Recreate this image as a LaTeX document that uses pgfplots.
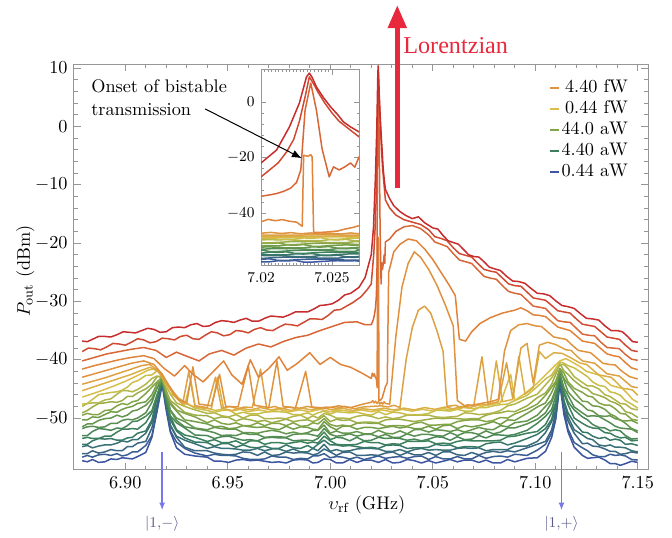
\documentclass[border=0pt,11pt]{standalone}
\usepackage{fontspec}
\usepackage{pgfplots}
\usepackage{pgfplotstable}
\pgfplotsset{compat=1.18}
\usetikzlibrary{arrows.meta}
\newfontfamily\lorfont{Liberation Serif}

% colours along the power sweep, blue (low) to red (high)
\definecolor{c1}{RGB}{60,85,160}
\definecolor{c2}{RGB}{59,94,146}
\definecolor{c3}{RGB}{58,102,132}
\definecolor{c4}{RGB}{57,111,118}
\definecolor{c5}{RGB}{56,120,104}
\definecolor{c6}{RGB}{60,128,93}
\definecolor{c7}{RGB}{74,135,88}
\definecolor{c8}{RGB}{87,142,83}
\definecolor{c9}{RGB}{101,150,78}
\definecolor{c10}{RGB}{114,157,72}
\definecolor{c11}{RGB}{132,165,71}
\definecolor{c12}{RGB}{155,173,72}
\definecolor{c13}{RGB}{178,181,73}
\definecolor{c14}{RGB}{200,190,74}
\definecolor{c15}{RGB}{216,190,74}
\definecolor{c16}{RGB}{218,176,70}
\definecolor{c17}{RGB}{221,161,67}
\definecolor{c18}{RGB}{223,147,63}
\definecolor{c19}{RGB}{224,131,59}
\definecolor{c20}{RGB}{216,102,55}
\definecolor{c21}{RGB}{208,74,50}
\definecolor{c22}{RGB}{200,45,45}
\definecolor{lorred}{RGB}{232,40,60}
\definecolor{ketline}{RGB}{120,120,235}
\definecolor{kettext}{RGB}{90,90,140}
\definecolor{framegray}{RGB}{150,150,150}

% low-power traces (linear regime)
\pgfplotstableread{
x y1 y2 y3 y4 y5 y6 y7 y8 y9 y10 y11 y12 y13 y14
6.879 -57.3 -56.7 -56.1 -54.9 -54.5 -53.5 -53.0 -51.8 -51.5 -50.3 -49.5 -49.1 -48.0 -47.6
6.8815 -57.5 -56.4 -56.1 -54.7 -54.5 -53.3 -53.0 -51.5 -51.0 -50.3 -49.2 -48.7 -47.5 -47.5
6.884 -57.1 -56.7 -55.6 -55.1 -53.9 -53.5 -52.3 -51.4 -51.0 -49.8 -49.4 -48.1 -47.4 -46.8
6.887 -57.6 -56.3 -56.0 -54.8 -53.5 -53.5 -51.8 -51.6 -50.4 -49.9 -49.4 -47.5 -47.4 -46.0
6.890 -57.5 -56.2 -55.8 -54.6 -53.6 -53.1 -51.9 -51.5 -50.1 -49.4 -48.7 -47.4 -46.9 -45.8
6.893 -57.0 -56.4 -55.4 -54.6 -53.5 -53.1 -52.1 -50.9 -50.0 -48.9 -48.6 -47.2 -46.7 -45.6
6.896 -57.1 -56.1 -55.6 -54.3 -53.8 -52.4 -51.7 -50.9 -49.5 -49.0 -47.9 -47.3 -45.9 -45.5
6.8985 -56.8 -56.5 -55.6 -53.9 -53.8 -51.9 -51.8 -50.4 -49.8 -48.5 -47.5 -47.0 -45.3 -45.2
6.901 -56.9 -56.3 -54.9 -54.1 -53.4 -51.9 -51.3 -50.2 -49.5 -48.2 -47.7 -46.3 -45.3 -44.7
6.9035 -57.0 -55.8 -54.9 -53.7 -53.3 -51.8 -50.6 -50.3 -48.8 -48.0 -47.2 -46.3 -45.5 -43.9
6.906 -56.6 -55.8 -54.3 -53.7 -52.6 -51.9 -50.5 -50.0 -48.6 -47.5 -47.0 -45.7 -45.1 -43.6
6.910 -55.9 -54.7 -54.0 -52.6 -52.2 -50.8 -49.7 -49.1 -47.8 -47.2 -45.8 -45.0 -44.2 -42.7
6.913 -53.3 -53.0 -51.7 -50.7 -50.3 -49.1 -48.7 -47.3 -46.7 -46.0 -44.7 -44.2 -43.2 -42.6
6.9155 -48.8 -48.7 -47.8 -47.7 -46.6 -46.3 -46.0 -44.9 -44.8 -44.1 -43.8 -42.9 -42.8 -41.9
6.918 -44.3 -43.7 -43.8 -43.9 -43.3 -43.6 -43.4 -43.6 -43.1 -43.5 -43.0 -42.8 -43.1 -42.7
6.920 -48.7 -47.9 -48.0 -47.5 -47.5 -46.8 -47.0 -46.2 -45.8 -45.9 -45.3 -45.4 -44.6 -44.5
6.922 -52.4 -52.2 -51.3 -51.2 -50.3 -49.7 -49.6 -48.7 -48.6 -47.6 -47.3 -47.0 -45.9 -45.8
6.925 -55.1 -54.1 -53.3 -53.1 -52.2 -52.0 -50.8 -50.4 -50.0 -48.8 -48.6 -47.8 -47.4 -46.4
6.929 -56.2 -55.2 -55.0 -53.8 -53.4 -52.9 -51.7 -51.5 -50.6 -50.3 -49.2 -49.0 -48.0 -47.2
6.934 -56.5 -56.0 -55.6 -54.4 -54.1 -53.3 -52.9 -51.8 -51.7 -50.6 -49.8 -49.5 -48.6 -48.3
6.940 -56.7 -56.5 -55.6 -55.2 -54.2 -54.0 -53.0 -52.2 -52.0 -51.0 -50.8 -49.6 -49.2 -48.7
6.9435 -57.4 -56.2 -56.0 -54.9 -54.8 -53.7 -53.5 -52.5 -51.6 -51.5 -50.3 -50.1 -49.1 -49.0
6.947 -57.4 -56.4 -56.2 -55.2 -54.4 -54.2 -53.2 -53.0 -51.8 -51.4 -50.9 -49.8 -49.6 -48.7
6.9505 -57.6 -56.4 -56.3 -55.2 -54.4 -54.2 -53.1 -52.9 -51.9 -51.8 -51.1 -49.9 -49.8 -48.6
6.954 -57.2 -56.5 -56.2 -55.3 -55.0 -53.9 -53.5 -53.0 -51.9 -51.7 -50.8 -50.5 -49.4 -49.3
6.9575 -57.1 -56.9 -55.8 -55.5 -54.6 -54.5 -53.8 -52.6 -52.5 -51.3 -51.3 -50.1 -50.0 -49.0
6.961 -57.3 -57.1 -55.9 -55.5 -55.0 -53.9 -53.7 -52.8 -52.5 -51.5 -51.3 -50.3 -49.5 -49.3
6.9645 -57.2 -57.1 -56.4 -55.2 -55.1 -53.9 -53.9 -52.8 -52.6 -51.6 -50.8 -50.6 -49.5 -49.3
6.968 -57.4 -57.0 -55.8 -55.6 -54.8 -54.5 -53.4 -53.3 -52.3 -51.5 -51.3 -50.4 -50.1 -49.0
6.9715 -57.6 -56.5 -56.4 -55.3 -55.2 -54.2 -53.3 -53.2 -52.1 -51.8 -50.9 -50.8 -50.1 -48.9
6.975 -57.5 -56.7 -56.3 -55.3 -55.2 -54.2 -53.4 -53.2 -52.3 -52.0 -50.9 -50.5 -50.0 -48.9
6.9785 -57.7 -56.7 -55.8 -55.7 -54.6 -54.4 -53.4 -53.3 -52.7 -51.4 -51.3 -50.2 -50.1 -49.0
6.982 -57.2 -57.1 -56.0 -55.3 -55.1 -54.2 -53.9 -52.8 -52.4 -51.9 -50.8 -50.6 -49.7 -49.4
6.9855 -57.1 -56.9 -55.9 -55.8 -55.2 -54.0 -53.8 -52.7 -52.7 -51.5 -51.4 -50.4 -49.5 -49.4
6.989 -57.2 -57.0 -56.0 -55.8 -54.7 -54.3 -53.8 -52.7 -52.5 -51.6 -51.3 -50.3 -50.1 -49.1
6.9915 -57.7 -56.5 -56.3 -55.2 -55.2 -54.1 -53.9 -52.9 -52.1 -51.9 -50.8 -50.6 -49.6 -49.5
6.994 -57.6 -56.5 -56.1 -55.6 -54.5 -54.3 -53.5 -53.1 -52.1 -52.0 -51.0 -50.3 -50.0 -49.1
6.997 -57.0 -56.1 -55.3 -54.5 -53.8 -53.1 -52.4 -51.8 -51.2 -50.6 -50.1 -49.6 -49.2 -48.8
7.000 -57.1 -56.8 -55.8 -55.7 -54.6 -53.9 -53.7 -52.8 -52.6 -51.5 -51.1 -50.6 -49.5 -49.3
7.003 -57.7 -56.6 -56.4 -55.4 -54.6 -54.5 -53.3 -53.1 -52.2 -52.0 -51.4 -50.2 -50.0 -48.9
7.006 -57.7 -56.7 -55.9 -55.7 -54.8 -54.6 -53.4 -53.0 -52.6 -51.4 -51.2 -50.4 -50.0 -49.0
7.0095 -57.1 -57.0 -55.8 -55.6 -54.7 -54.6 -53.9 -52.7 -52.6 -51.4 -51.4 -50.3 -50.1 -49.1
7.013 -57.6 -56.7 -56.4 -55.3 -54.9 -54.5 -53.3 -53.1 -52.3 -51.9 -50.9 -50.8 -49.7 -49.0
7.0165 -57.2 -57.1 -56.4 -55.2 -55.1 -54.0 -53.9 -52.8 -52.7 -51.6 -50.8 -50.7 -49.5 -49.3
7.020 -57.2 -56.8 -56.3 -55.2 -55.0 -54.2 -53.8 -52.8 -52.7 -51.6 -50.9 -50.7 -49.7 -49.5
7.0235 -57.6 -56.5 -56.4 -55.3 -55.2 -54.2 -53.3 -53.2 -52.1 -51.8 -50.9 -50.8 -50.1 -48.9
7.027 -57.1 -56.9 -56.0 -55.7 -54.7 -54.6 -53.5 -52.8 -52.6 -51.6 -51.4 -50.3 -49.8 -49.4
7.0305 -57.7 -56.7 -55.8 -55.7 -54.6 -54.4 -53.4 -53.3 -52.7 -51.4 -51.3 -50.2 -50.1 -49.0
7.034 -57.6 -56.6 -56.4 -55.4 -54.7 -54.5 -53.5 -53.3 -52.2 -51.7 -51.3 -50.2 -49.9 -49.1
7.0375 -57.1 -56.9 -55.9 -55.8 -55.2 -54.0 -53.8 -52.7 -52.7 -51.5 -51.4 -50.4 -49.5 -49.4
7.041 -57.3 -56.6 -56.3 -55.4 -55.1 -54.0 -53.6 -53.1 -52.0 -51.8 -50.9 -50.6 -49.5 -49.4
7.0445 -57.7 -56.5 -56.3 -55.2 -55.1 -54.0 -53.9 -52.8 -52.0 -51.8 -50.7 -50.4 -49.5 -49.4
7.048 -57.3 -57.1 -55.9 -55.5 -55.0 -53.9 -53.6 -52.8 -52.4 -51.4 -51.2 -50.2 -49.5 -49.2
7.0515 -57.7 -56.6 -56.4 -55.4 -54.5 -54.4 -53.2 -53.0 -52.0 -51.9 -51.2 -50.0 -49.8 -48.7
7.055 -57.4 -57.0 -55.8 -55.5 -54.7 -54.3 -53.3 -53.1 -52.1 -51.3 -51.1 -50.1 -49.9 -48.7
7.0585 -57.1 -57.0 -55.8 -55.5 -54.6 -54.4 -53.8 -52.5 -52.3 -51.2 -51.1 -50.0 -49.8 -48.8
7.062 -57.5 -56.6 -56.3 -55.2 -55.1 -54.0 -53.2 -53.0 -52.0 -51.8 -50.6 -50.1 -49.7 -48.5
7.0655 -57.2 -57.0 -56.4 -55.1 -54.9 -53.8 -53.7 -52.5 -52.4 -51.3 -50.4 -50.2 -49.1 -48.8
7.069 -57.2 -57.0 -55.9 -55.2 -54.9 -53.9 -53.6 -52.5 -52.0 -51.5 -50.3 -50.1 -49.2 -48.8
7.0725 -57.6 -56.4 -56.3 -55.1 -55.0 -53.9 -53.0 -52.8 -51.6 -51.3 -50.3 -50.1 -49.4 -48.2
7.076 -57.2 -56.9 -55.9 -55.6 -54.4 -53.9 -53.4 -52.2 -51.9 -51.0 -50.6 -49.5 -49.3 -48.2
7.0795 -57.7 -56.6 -55.7 -55.4 -54.2 -53.9 -52.9 -52.7 -52.0 -50.6 -50.4 -49.2 -49.1 -47.9
7.083 -57.7 -56.5 -55.9 -55.4 -54.1 -53.8 -52.9 -52.4 -51.3 -51.1 -49.9 -49.1 -48.7 -47.7
7.0865 -57.1 -56.7 -55.6 -55.4 -54.6 -53.2 -53.0 -51.7 -51.5 -50.3 -50.0 -48.8 -47.9 -47.6
7.090 -57.5 -56.2 -55.8 -54.8 -54.3 -53.1 -52.8 -51.7 -50.8 -50.4 -49.3 -48.9 -47.6 -47.0
7.096 -56.9 -56.4 -55.1 -54.8 -53.5 -52.6 -52.1 -51.0 -50.5 -49.2 -48.5 -47.9 -46.6 -46.1
7.101 -56.8 -55.5 -54.5 -54.0 -52.8 -52.3 -50.9 -50.2 -49.5 -48.1 -47.6 -46.5 -45.9 -44.6
7.105 -55.7 -54.5 -54.0 -52.5 -51.8 -51.1 -49.7 -49.1 -48.0 -47.4 -46.1 -45.7 -44.3 -43.3
7.108 -53.3 -52.6 -52.0 -50.6 -50.2 -49.1 -48.5 -47.3 -46.9 -45.6 -44.7 -44.2 -43.1 -42.6
7.110 -50.2 -49.9 -49.0 -48.6 -47.5 -47.3 -46.2 -45.4 -45.0 -44.0 -43.7 -42.5 -42.0 -41.5
7.112 -44.2 -43.5 -43.8 -43.1 -42.7 -42.9 -42.3 -42.4 -41.7 -41.6 -41.5 -40.7 -40.9 -40.4
7.114 -49.4 -48.6 -48.3 -47.3 -47.0 -45.8 -45.3 -44.8 -43.5 -43.2 -42.3 -41.9 -40.8 -40.6
7.116 -52.4 -51.9 -50.5 -49.8 -49.1 -47.7 -47.2 -46.1 -45.5 -44.2 -43.8 -42.5 -41.5 -41.0
7.119 -55.0 -54.2 -52.6 -52.0 -50.8 -50.0 -48.6 -48.1 -46.7 -45.5 -44.9 -43.6 -42.9 -41.4
7.123 -56.4 -55.1 -54.4 -52.9 -52.4 -50.9 -49.8 -49.1 -47.8 -47.1 -45.6 -44.7 -43.9 -42.3
7.1255 -56.9 -55.6 -54.3 -53.5 -52.5 -51.4 -50.3 -49.7 -48.6 -47.2 -46.2 -45.0 -44.5 -42.9
7.128 -56.8 -56.3 -54.8 -53.7 -53.1 -51.7 -51.1 -49.6 -48.8 -47.9 -46.4 -45.8 -44.5 -43.8
7.131 -56.7 -56.6 -54.9 -54.6 -53.5 -51.8 -51.6 -49.7 -49.6 -48.0 -47.4 -46.1 -45.0 -44.4
7.134 -57.2 -56.6 -55.3 -54.8 -53.3 -52.5 -51.7 -50.3 -49.7 -48.5 -47.8 -46.5 -46.0 -44.6
7.1365 -57.8 -56.2 -55.7 -54.6 -53.8 -52.6 -52.2 -50.8 -49.6 -49.3 -47.8 -47.1 -46.3 -45.5
7.139 -57.8 -56.4 -55.7 -55.0 -53.6 -53.1 -52.0 -51.4 -50.1 -49.7 -48.4 -47.4 -46.9 -45.7
7.1415 -58.1 -56.3 -56.2 -55.0 -53.8 -53.4 -52.2 -51.7 -50.3 -50.4 -49.2 -47.9 -47.5 -46.1
7.144 -57.8 -56.5 -56.1 -55.1 -54.5 -53.3 -53.0 -51.8 -50.9 -50.5 -49.3 -48.9 -47.6 -47.0
7.147 -57.4 -57.1 -55.8 -55.6 -54.4 -53.9 -53.6 -51.9 -51.8 -50.4 -50.2 -49.2 -48.4 -47.6
7.150 -57.6 -57.2 -56.0 -55.8 -54.7 -53.8 -53.5 -52.5 -52.2 -50.9 -50.4 -49.9 -48.6 -48.3
}\lowtab

% the same traces, finer, for the inset
\pgfplotstableread{
x y1 y2 y3 y4 y5 y6 y7 y8 y9 y10 y11 y12 y13 y14
7.0200 -57.6 -56.7 -56.4 -55.3 -54.9 -54.5 -53.3 -53.1 -52.3 -51.9 -50.9 -50.8 -49.7 -49.0
7.0206 -57.6 -56.5 -56.2 -55.4 -55.1 -54.1 -53.9 -52.9 -52.2 -51.9 -51.0 -50.8 -49.6 -49.2
7.0212 -57.2 -57.1 -56.0 -55.3 -55.1 -54.2 -53.9 -52.8 -52.4 -51.9 -50.8 -50.6 -49.7 -49.4
7.0218 -57.3 -57.1 -55.9 -55.5 -55.1 -54.0 -53.7 -52.9 -52.6 -51.5 -51.4 -50.4 -49.6 -49.4
7.0224 -57.1 -56.9 -56.0 -55.7 -54.7 -54.6 -53.5 -52.8 -52.6 -51.6 -51.4 -50.3 -49.8 -49.4
7.0230 -57.7 -56.7 -55.9 -55.7 -54.8 -54.6 -53.4 -53.0 -52.6 -51.4 -51.2 -50.4 -50.0 -49.0
7.0236 -57.7 -56.6 -56.1 -55.7 -54.6 -54.4 -53.5 -53.2 -52.2 -52.0 -51.0 -50.3 -50.0 -49.1
7.0242 -57.5 -56.7 -56.3 -55.3 -55.2 -54.2 -53.4 -53.2 -52.3 -52.0 -50.9 -50.5 -50.0 -48.9
7.0248 -57.3 -56.6 -56.3 -55.4 -55.2 -54.1 -53.6 -53.2 -52.1 -51.8 -51.0 -50.7 -49.6 -49.5
7.0254 -57.2 -56.8 -56.3 -55.2 -55.0 -54.2 -53.8 -52.8 -52.7 -51.6 -50.9 -50.7 -49.7 -49.5
7.0260 -57.3 -57.0 -55.9 -55.8 -54.8 -54.1 -53.8 -52.9 -52.7 -51.5 -51.1 -50.7 -49.5 -49.3
7.0266 -57.2 -57.0 -56.0 -55.8 -54.7 -54.3 -53.8 -52.7 -52.5 -51.6 -51.3 -50.3 -50.1 -49.1
7.0270 -57.4 -57.0 -55.8 -55.6 -54.8 -54.5 -53.4 -53.3 -52.3 -51.5 -51.3 -50.4 -50.1 -49.0
}\insettab

% high-power traces, one table each (H lowest ... A highest)
\pgfplotstableread[row sep=\\]{x y\\
6.879 -46.4\\ 6.886 -45.6\\ 6.893 -44.7\\ 6.900 -43.7\\ 6.906 -42.7\\ 6.911 -41.8\\ 6.915 -41.5\\ 6.918 -42.4\\ 6.921 -44.5\\ 6.925 -46.5\\ 6.929 -47.8\\ 6.932 -43.5\\ 6.934 -47.9\\ 6.940 -48.3\\ 6.944 -48.7\\ 6.948 -48.4\\ 6.952 -48.8\\ 6.956 -48.5\\ 6.960 -48.9\\ 6.965 -48.6\\ 6.970 -48.9\\ 6.975 -48.5\\ 6.980 -48.9\\ 6.985 -48.6\\ 6.990 -48.9\\ 6.995 -48.5\\ 7.000 -48.9\\ 7.005 -48.6\\ 7.010 -48.9\\ 7.015 -48.6\\ 7.020 -48.9\\ 7.025 -48.6\\ 7.030 -48.9\\ 7.035 -48.5\\ 7.040 -48.8\\ 7.045 -48.5\\ 7.050 -48.8\\ 7.055 -48.4\\ 7.060 -48.6\\ 7.065 -48.2\\ 7.070 -48.4\\ 7.075 -47.9\\ 7.083 -47.4\\ 7.088 -42.5\\ 7.090 -47.0\\ 7.096 -45.5\\ 7.101 -44.0\\ 7.105 -42.6\\ 7.109 -41.2\\ 7.112 -40.2\\ 7.115 -39.8\\ 7.118 -40.4\\ 7.122 -41.2\\ 7.125 -42.0\\ 7.128 -42.3\\ 7.131 -42.6\\ 7.134 -43.5\\ 7.137 -44.4\\ 7.140 -44.7\\ 7.1425 -44.9\\ 7.145 -45.8\\ 7.1475 -46.8\\ 7.150 -47.3\\
}\curveH
\pgfplotstableread[row sep=\\]{x y\\
6.879 -45.3\\ 6.885 -44.6\\ 6.891 -43.9\\ 6.897 -43.2\\ 6.903 -42.5\\ 6.908 -41.8\\ 6.912 -41.3\\ 6.916 -42.0\\ 6.920 -43.8\\ 6.924 -45.8\\ 6.928 -47.3\\ 6.933 -48.0\\ 6.938 -48.3\\ 6.942 -48.4\\ 6.945 -43.0\\ 6.948 -48.4\\ 6.952 -48.7\\ 6.956 -48.3\\ 6.961 -48.6\\ 6.966 -48.2\\ 6.971 -48.6\\ 6.976 -48.3\\ 6.981 -48.7\\ 6.986 -48.3\\ 6.991 -48.6\\ 6.996 -48.2\\ 7.001 -48.6\\ 7.006 -48.3\\ 7.011 -48.7\\ 7.016 -48.4\\ 7.021 -48.6\\ 7.026 -48.3\\ 7.031 -48.6\\ 7.036 -48.3\\ 7.041 -48.6\\ 7.046 -48.2\\ 7.051 -48.5\\ 7.056 -48.1\\ 7.060 -48.4\\ 7.064 -48.0\\ 7.068 -48.2\\ 7.072 -47.8\\ 7.078 -47.6\\ 7.081 -40.2\\ 7.084 -47.2\\ 7.089 -46.8\\ 7.092 -39.4\\ 7.095 -45.9\\ 7.099 -44.8\\ 7.102 -38.6\\ 7.105 -39.8\\ 7.109 -38.8\\ 7.113 -38.9\\ 7.117 -39.6\\ 7.122 -40.6\\ 7.125 -40.8\\ 7.128 -41.7\\ 7.131 -42.6\\ 7.134 -42.8\\ 7.137 -43.0\\ 7.140 -44.0\\ 7.1425 -44.9\\ 7.145 -45.0\\ 7.1475 -45.2\\ 7.150 -46.1\\
}\curveG
\pgfplotstableread[row sep=\\]{x y\\
6.879 -44.2\\ 6.885 -43.6\\ 6.891 -43.0\\ 6.897 -42.3\\ 6.903 -41.6\\ 6.908 -41.0\\ 6.912 -40.8\\ 6.916 -41.9\\ 6.920 -44.0\\ 6.924 -46.2\\ 6.928 -47.6\\ 6.931 -42.0\\ 6.934 -47.9\\ 6.940 -48.2\\ 6.944 -43.0\\ 6.947 -48.3\\ 6.951 -48.0\\ 6.955 -48.4\\ 6.958 -48.1\\ 6.962 -48.2\\ 6.966 -41.6\\ 6.969 -48.3\\ 6.973 -48.0\\ 6.976 -48.4\\ 6.980 -48.1\\ 6.985 -48.3\\ 6.989 -48.0\\ 6.994 -48.4\\ 6.998 -48.1\\ 7.003 -48.3\\ 7.007 -48.0\\ 7.012 -48.4\\ 7.016 -48.1\\ 7.020 -48.0\\ 7.025 -47.9\\ 7.028 -48.1\\ 7.031 -47.8\\ 7.034 -48.2\\ 7.037 -40.0\\ 7.040 -34.5\\ 7.043 -31.5\\ 7.046 -30.8\\ 7.049 -32.0\\ 7.052 -35.0\\ 7.055 -38.5\\ 7.057 -48.0\\ 7.061 -47.8\\ 7.064 -48.2\\ 7.067 -47.7\\ 7.070 -47.9\\ 7.074 -39.5\\ 7.077 -47.6\\ 7.082 -47.2\\ 7.086 -40.5\\ 7.089 -46.6\\ 7.093 -38.0\\ 7.096 -37.2\\ 7.099 -44.0\\ 7.102 -37.5\\ 7.106 -37.0\\ 7.110 -37.4\\ 7.115 -38.3\\ 7.1175 -38.4\\ 7.120 -39.3\\ 7.123 -40.2\\ 7.126 -40.4\\ 7.129 -40.6\\ 7.132 -41.5\\ 7.135 -42.4\\ 7.138 -42.6\\ 7.141 -42.8\\ 7.144 -43.7\\ 7.147 -44.6\\ 7.150 -44.8\\
}\curveF
\pgfplotstableread[row sep=\\]{x y\\
6.879 -43.0\\ 6.885 -42.4\\ 6.891 -41.8\\ 6.897 -41.2\\ 6.903 -40.6\\ 6.909 -40.2\\ 6.914 -40.8\\ 6.918 -42.5\\ 6.922 -44.8\\ 6.926 -46.8\\ 6.930 -47.4\\ 6.933 -41.2\\ 6.936 -47.6\\ 6.942 -47.9\\ 6.946 -42.5\\ 6.949 -48.0\\ 6.955 -48.1\\ 6.960 -41.0\\ 6.963 -47.8\\ 6.970 -48.2\\ 6.974 -40.2\\ 6.977 -48.0\\ 6.983 -48.3\\ 6.988 -42.0\\ 6.991 -48.1\\ 6.998 -48.3\\ 7.004 -47.9\\ 7.010 -48.2\\ 7.016 -47.6\\ 7.020 -47.3\\ 7.0207 -47.0\\ 7.0214 -47.4\\ 7.0221 -47.1\\ 7.0228 -47.5\\ 7.0235 -47.2\\ 7.0242 -47.6\\ 7.0249 -47.3\\ 7.0256 -47.6\\ 7.0263 -47.2\\ 7.0269 -47.5\\ 7.029 -47.6\\ 7.032 -36.0\\ 7.035 -27.5\\ 7.038 -23.5\\ 7.041 -21.5\\ 7.044 -22.4\\ 7.048 -24.5\\ 7.052 -27.2\\ 7.056 -30.5\\ 7.060 -34.2\\ 7.062 -47.0\\ 7.066 -48.0\\ 7.072 -47.6\\ 7.078 -47.2\\ 7.082 -46.8\\ 7.085 -38.5\\ 7.088 -35.0\\ 7.092 -34.0\\ 7.096 -33.8\\ 7.100 -34.2\\ 7.103 -34.3\\ 7.106 -35.2\\ 7.109 -36.1\\ 7.112 -36.3\\ 7.115 -36.5\\ 7.118 -37.5\\ 7.121 -38.4\\ 7.124 -38.6\\ 7.127 -38.8\\ 7.130 -39.7\\ 7.133 -40.6\\ 7.136 -40.8\\ 7.139 -40.9\\ 7.142 -41.9\\ 7.146 -42.9\\ 7.150 -43.3\\
}\curveE
\pgfplotstableread[row sep=\\]{x y\\
6.879 -41.6\\ 6.885 -41.0\\ 6.891 -40.5\\ 6.897 -40.0\\ 6.903 -39.6\\ 6.909 -39.3\\ 6.914 -39.8\\ 6.919 -41.5\\ 6.924 -42.8\\ 6.929 -41.0\\ 6.933 -42.5\\ 6.938 -43.8\\ 6.943 -42.0\\ 6.948 -40.2\\ 6.952 -42.6\\ 6.957 -44.2\\ 6.961 -40.0\\ 6.965 -43.0\\ 6.970 -41.5\\ 6.975 -39.5\\ 6.979 -41.8\\ 6.984 -40.6\\ 6.990 -38.8\\ 6.995 -40.8\\ 7.000 -39.6\\ 7.005 -40.8\\ 7.010 -41.3\\ 7.015 -42.2\\ 7.0200 -43.2\\ 7.0205 -42.3\\ 7.0210 -42.8\\ 7.0215 -42.4\\ 7.0220 -43.0\\ 7.0225 -43.3\\ 7.0229 -44.8\\ 7.0230 -19.2\\ 7.0233 -19.6\\ 7.0235 -19.0\\ 7.0236 -19.8\\ 7.0237 -47.0\\ 7.0242 -47.0\\ 7.0248 -46.8\\ 7.0254 -46.5\\ 7.0259 -45.8\\ 7.0264 -45.3\\ 7.0269 -44.6\\ 7.0278 -44.0\\ 7.0285 -25.0\\ 7.031 -21.5\\ 7.034 -20.2\\ 7.038 -19.3\\ 7.042 -19.6\\ 7.046 -21.0\\ 7.050 -22.8\\ 7.054 -25.0\\ 7.058 -27.2\\ 7.061 -29.0\\ 7.063 -36.5\\ 7.066 -36.8\\ 7.069 -35.2\\ 7.073 -33.8\\ 7.078 -32.8\\ 7.084 -32.0\\ 7.090 -31.5\\ 7.093 -31.1\\ 7.096 -31.6\\ 7.099 -32.3\\ 7.102 -32.4\\ 7.105 -32.6\\ 7.108 -33.5\\ 7.111 -34.4\\ 7.114 -34.7\\ 7.117 -35.0\\ 7.120 -35.9\\ 7.123 -36.8\\ 7.126 -37.0\\ 7.129 -37.2\\ 7.132 -38.1\\ 7.135 -39.0\\ 7.138 -39.3\\ 7.141 -39.5\\ 7.144 -40.5\\ 7.147 -41.4\\ 7.150 -41.7\\
}\curveD
\pgfplotstableread[row sep=\\]{x y\\
6.879 -40.2\\ 6.885 -39.6\\ 6.891 -39.0\\ 6.897 -38.6\\ 6.903 -38.2\\ 6.909 -37.9\\ 6.915 -38.4\\ 6.920 -39.6\\ 6.925 -38.7\\ 6.930 -39.4\\ 6.936 -40.2\\ 6.941 -39.0\\ 6.947 -38.4\\ 6.953 -39.2\\ 6.959 -38.0\\ 6.965 -37.3\\ 6.971 -37.8\\ 6.977 -36.9\\ 6.983 -36.2\\ 6.989 -35.8\\ 6.995 -35.0\\ 7.001 -34.3\\ 7.007 -33.6\\ 7.013 -33.5\\ 7.017 -34.0\\ 7.0200 -34.0\\ 7.0206 -33.5\\ 7.0211 -33.0\\ 7.0216 -32.2\\ 7.0221 -31.0\\ 7.0225 -29.0\\ 7.0228 -24.5\\ 7.0231 -3.0\\ 7.0235 6.8\\ 7.0239 -3.0\\ 7.0243 -17.0\\ 7.0248 -27.0\\ 7.0251 -23.4\\ 7.0255 -24.5\\ 7.0259 -23.4\\ 7.0263 -22.0\\ 7.0266 -23.5\\ 7.0269 -19.8\\ 7.029 -19.3\\ 7.032 -18.0\\ 7.036 -17.2\\ 7.040 -17.0\\ 7.044 -17.5\\ 7.048 -18.6\\ 7.051 -19.8\\ 7.054 -20.2\\ 7.057 -20.6\\ 7.060 -21.8\\ 7.063 -22.9\\ 7.066 -23.2\\ 7.069 -23.5\\ 7.072 -24.6\\ 7.075 -25.7\\ 7.078 -26.0\\ 7.081 -26.2\\ 7.084 -27.3\\ 7.087 -28.3\\ 7.090 -28.6\\ 7.093 -28.8\\ 7.096 -29.8\\ 7.099 -30.8\\ 7.102 -31.0\\ 7.105 -31.2\\ 7.108 -32.3\\ 7.111 -33.3\\ 7.114 -33.5\\ 7.117 -33.6\\ 7.120 -34.6\\ 7.123 -35.6\\ 7.126 -35.8\\ 7.129 -35.9\\ 7.132 -37.0\\ 7.135 -37.9\\ 7.138 -38.0\\ 7.141 -38.1\\ 7.144 -39.1\\ 7.147 -39.9\\ 7.150 -40.1\\
}\curveC
\pgfplotstableread[row sep=\\]{x y\\
6.879 -38.6\\ 6.882 -38.0\\ 6.885 -38.1\\ 6.888 -38.3\\ 6.891 -37.8\\ 6.894 -37.2\\ 6.897 -37.3\\ 6.900 -37.5\\ 6.903 -37.0\\ 6.906 -36.4\\ 6.909 -36.6\\ 6.912 -37.1\\ 6.915 -36.9\\ 6.918 -36.3\\ 6.921 -36.4\\ 6.924 -36.6\\ 6.927 -36.0\\ 6.930 -35.8\\ 6.933 -36.4\\ 6.936 -36.5\\ 6.939 -35.8\\ 6.942 -35.2\\ 6.945 -35.4\\ 6.948 -35.9\\ 6.951 -35.7\\ 6.954 -35.0\\ 6.957 -35.1\\ 6.960 -35.4\\ 6.963 -34.8\\ 6.966 -34.5\\ 6.969 -34.9\\ 6.972 -35.0\\ 6.975 -34.4\\ 6.978 -33.9\\ 6.981 -34.0\\ 6.984 -34.2\\ 6.987 -33.6\\ 6.990 -33.0\\ 6.993 -33.0\\ 6.996 -33.1\\ 6.999 -32.4\\ 7.002 -31.5\\ 7.005 -31.4\\ 7.011 -30.2\\ 7.015 -29.2\\ 7.018 -28.0\\ 7.0200 -27.0\\ 7.0206 -24.5\\ 7.0212 -22.0\\ 7.0218 -18.0\\ 7.0223 -13.5\\ 7.0227 -7.0\\ 7.0231 1.8\\ 7.0234 9.0\\ 7.0237 6.5\\ 7.0240 3.6\\ 7.0245 -0.5\\ 7.0250 -4.0\\ 7.0255 -7.0\\ 7.0260 -9.0\\ 7.0265 -11.0\\ 7.0269 -12.6\\ 7.029 -14.0\\ 7.032 -15.2\\ 7.036 -16.0\\ 7.040 -16.4\\ 7.044 -16.8\\ 7.048 -17.7\\ 7.051 -18.9\\ 7.054 -19.2\\ 7.057 -19.6\\ 7.060 -20.8\\ 7.063 -21.8\\ 7.066 -22.1\\ 7.069 -22.4\\ 7.072 -23.5\\ 7.075 -24.5\\ 7.078 -24.8\\ 7.081 -25.0\\ 7.084 -26.0\\ 7.087 -27.0\\ 7.090 -27.3\\ 7.093 -27.4\\ 7.096 -28.4\\ 7.099 -29.4\\ 7.102 -29.6\\ 7.105 -29.8\\ 7.108 -30.7\\ 7.111 -31.6\\ 7.114 -31.8\\ 7.117 -32.0\\ 7.120 -33.0\\ 7.123 -33.9\\ 7.126 -34.1\\ 7.129 -34.3\\ 7.132 -35.2\\ 7.135 -36.1\\ 7.138 -36.3\\ 7.141 -36.5\\ 7.144 -37.5\\ 7.147 -38.4\\ 7.150 -38.6\\
}\curveB
\pgfplotstableread[row sep=\\]{x y\\
6.879 -36.8\\ 6.8815 -36.9\\ 6.884 -36.5\\ 6.887 -36.0\\ 6.890 -36.0\\ 6.893 -36.1\\ 6.896 -35.7\\ 6.899 -35.2\\ 6.902 -35.3\\ 6.905 -35.4\\ 6.908 -35.0\\ 6.911 -34.6\\ 6.914 -34.8\\ 6.917 -35.3\\ 6.920 -35.2\\ 6.923 -34.5\\ 6.926 -34.4\\ 6.929 -34.5\\ 6.932 -34.0\\ 6.935 -33.8\\ 6.938 -34.3\\ 6.941 -34.2\\ 6.944 -33.6\\ 6.947 -33.3\\ 6.950 -33.4\\ 6.953 -33.6\\ 6.956 -33.2\\ 6.959 -32.9\\ 6.962 -33.4\\ 6.965 -33.4\\ 6.968 -32.9\\ 6.971 -32.5\\ 6.974 -32.6\\ 6.977 -32.7\\ 6.980 -32.3\\ 6.983 -31.8\\ 6.986 -31.8\\ 6.989 -31.8\\ 6.992 -31.3\\ 6.995 -30.7\\ 6.998 -30.6\\ 7.001 -30.4\\ 7.004 -29.8\\ 7.007 -28.9\\ 7.010 -28.6\\ 7.014 -27.6\\ 7.017 -25.9\\ 7.020 -22.0\\ 7.0211 -17.3\\ 7.0220 -9.0\\ 7.0227 -0.4\\ 7.0232 9.0\\ 7.0234 10.4\\ 7.0236 8.8\\ 7.0239 5.4\\ 7.0244 1.5\\ 7.0249 -1.8\\ 7.0254 -4.6\\ 7.0258 -7.2\\ 7.0263 -9.0\\ 7.0269 -10.8\\ 7.029 -12.4\\ 7.031 -13.6\\ 7.034 -14.6\\ 7.037 -15.3\\ 7.040 -15.8\\ 7.043 -15.5\\ 7.046 -16.5\\ 7.050 -17.4\\ 7.0525 -17.6\\ 7.055 -18.7\\ 7.0575 -19.6\\ 7.060 -19.9\\ 7.0625 -20.2\\ 7.065 -21.1\\ 7.0675 -22.0\\ 7.070 -22.3\\ 7.0725 -22.4\\ 7.075 -23.2\\ 7.0775 -24.1\\ 7.080 -24.4\\ 7.083 -24.7\\ 7.086 -25.7\\ 7.089 -26.5\\ 7.092 -26.6\\ 7.095 -26.9\\ 7.098 -27.8\\ 7.101 -28.6\\ 7.104 -28.7\\ 7.107 -29.0\\ 7.110 -29.9\\ 7.113 -30.7\\ 7.116 -30.9\\ 7.119 -31.2\\ 7.122 -32.1\\ 7.125 -32.9\\ 7.128 -33.0\\ 7.131 -33.2\\ 7.134 -34.2\\ 7.137 -35.0\\ 7.140 -35.0\\ 7.1425 -35.2\\ 7.145 -36.0\\ 7.1475 -36.9\\ 7.150 -37.0\\
}\curveA

\begin{document}
\begin{tikzpicture}
\begin{axis}[
  name=main, scale only axis, width=344.4pt, height=243.6pt,
  xmin=6.875, xmax=7.155, ymin=-58.9, ymax=10.7,
  xtick={6.90,6.95,7.00,7.05,7.10,7.15}, ytick={-50,-40,-30,-20,-10,0,10},
  minor x tick num=4, minor y tick num=4,
  tick align=inside, major tick length=4.2pt, minor tick length=2.2pt,
  axis line style={framegray, line width=0.6pt},
  tick style={framegray, line width=0.5pt},
  xticklabel style={/pgf/number format/.cd, fixed, fixed zerofill, precision=2},
  xlabel={$\upsilon_{\mathrm{rf}}$ (GHz)},
  ylabel={$P_{\mathrm{out}}$ (dBm)},
  every axis x label/.style={at={(axis description cs:0.51,-0.086)}, anchor=center},
  every axis y label/.style={at={(axis description cs:-0.085,0.49)}, rotate=90, anchor=center},
  legend style={at={(axis description cs:0.9686,0.9655)}, anchor=north east,
    draw=none, fill=none, inner sep=0pt, row sep=1.15pt,
    nodes={inner sep=1pt, text height=7.5pt, text depth=2pt}},
  legend cell align={right},
  legend image code/.code={\draw[#1, line width=1.3pt] (0pt,0pt) -- (5pt,0pt);},
  every axis plot/.append style={line width=0.9pt, line join=round},
]
\addlegendimage{c18}\addlegendentry{4.40 fW}
\addlegendimage{c15}\addlegendentry{0.44 fW}
\addlegendimage{c11}\addlegendentry{44.0 aW}
\addlegendimage{c6}\addlegendentry{4.40 aW}
\addlegendimage{c1}\addlegendentry{0.44 aW}

\pgfplotsinvokeforeach{1,...,14}{
  \addplot[c#1, forget plot] table[x index=0, y index=#1] {\lowtab};
}
\addplot[c15, forget plot] table {\curveH};
\addplot[c16, forget plot] table {\curveG};
\addplot[c17, forget plot] table {\curveF};
\addplot[c18, forget plot] table {\curveE};
\addplot[c19, forget plot] table {\curveD};
\addplot[c20, forget plot] table {\curveC};
\addplot[c21, forget plot] table {\curveB};
\addplot[c22, forget plot] table {\curveA};

\coordinate (insSW) at (rel axis cs:0.3258,0.5025);
\coordinate (bbSW) at (rel axis cs:0,0);
\coordinate (bbNE) at (rel axis cs:1,1);
\coordinate (onsetA) at (axis cs:6.939,3.0);
\coordinate (onsettxt) at (axis cs:6.8833,8.1);
\coordinate (lorA) at (axis cs:7.0327,-10.6);
\coordinate (lorB) at (axis cs:7.0327,20.8);
\coordinate (lortxt) at (axis cs:7.0355,13.9);
\coordinate (km1) at (axis cs:6.918,-55.8);
\coordinate (km2) at (axis cs:6.918,-65.8);
\coordinate (km3) at (axis cs:6.918,-68.2);
\coordinate (kp1) at (axis cs:7.1128,-55.8);
\coordinate (kp2) at (axis cs:7.1128,-65.8);
\coordinate (kp3) at (axis cs:7.1128,-68.2);
\end{axis}

\begin{axis}[
  at={(insSW)}, anchor=south west,
  scale only axis, width=58.8pt, height=117.6pt,
  xmin=7.02, xmax=7.0269, ymin=-59.1, ymax=11.5,
  xtick={7.02,7.025}, ytick={-40,-20,0},
  minor x tick num=19, minor y tick num=4,
  tick align=inside, major tick length=3pt, minor tick length=1.5pt,
  axis line style={framegray, line width=0.6pt},
  tick style={framegray, line width=0.4pt},
  tick label style={font=\footnotesize},
  xticklabel style={/pgf/number format/.cd, fixed, precision=3},
  scaled x ticks=false,
  axis background/.style={fill=white},
  every axis plot/.append style={line width=0.9pt, line join=round},
]
\pgfplotsinvokeforeach{1,...,14}{
  \addplot[c#1, forget plot] table[x index=0, y index=#1] {\insettab};
}
\addplot[c15, forget plot] table {\curveH};
\addplot[c16, forget plot] table {\curveG};
\addplot[c17, forget plot] table {\curveF};
\addplot[c18, forget plot] table {\curveE};
\addplot[c19, forget plot] table {\curveD};
\addplot[c20, forget plot] table {\curveC};
\addplot[c21, forget plot] table {\curveB};
\addplot[c22, forget plot] table {\curveA};
\coordinate (onsetB) at (axis cs:7.02288,-20.3);
\end{axis}

% annotations
\node[anchor=north west, inner sep=0pt, align=left] at (onsettxt) {Onset of bistable\\transmission};
\draw[-{Latex[length=6pt,width=4.6pt]}, line width=0.6pt] (onsetA) -- (onsetB);
\draw[lorred, line width=3pt, -{Triangle[length=13.8pt,width=10.8pt]}] (lorA) -- (lorB);
\node[lorred, anchor=west, inner sep=0pt, font=\lorfont\fontsize{14.5}{17}\selectfont] at (lortxt) {Lorentzian};
\draw[ketline, line width=0.8pt, -{Latex[length=4.5pt,width=3.5pt]}] (km1) -- (km2);
\draw[ketline, line width=0.8pt, -{Latex[length=4.5pt,width=3.5pt]}] (kp1) -- (kp2);
\node[kettext, font=\footnotesize] at (km3) {$|1{,}{-}\rangle$};
\node[kettext, font=\footnotesize] at (kp3) {$|1{,}{+}\rangle$};

% page size in the reference's proportions
\path (bbSW) ++(-44.4pt,-39pt) coordinate (q1);
\path (bbNE) ++(14.4pt,38.4pt) coordinate (q2);
\path (q1) rectangle (q2);
\end{tikzpicture}
\end{document}
